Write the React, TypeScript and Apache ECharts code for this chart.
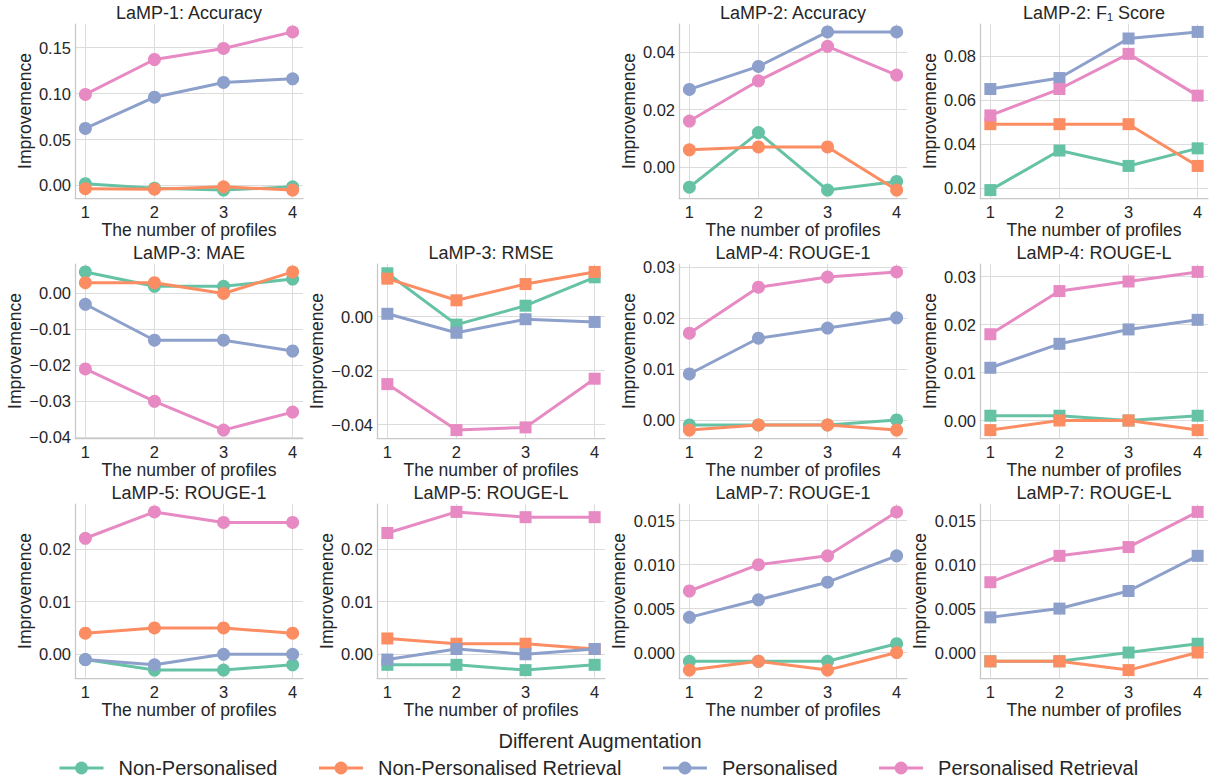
import React, { useEffect, useRef } from 'react';
import * as echarts from 'echarts';

// ---------- data ----------
const profiles = [1, 2, 3, 4];
const augmentations = ['Non-Personalised', 'Non-Personalised Retrieval', 'Personalised', 'Personalised Retrieval'];
const colors = ['#66c2a5', '#fc8d62', '#8da0cb', '#e78ac3'];

// LaMP-1: Accuracy
const lamp1AccNP = [0.002, -0.003, -0.005, -0.0015];
const lamp1AccNPR = [-0.0035, -0.004, -0.0015, -0.005];
const lamp1AccP = [0.062, 0.096, 0.112, 0.116];
const lamp1AccPR = [0.099, 0.137, 0.149, 0.167];
const lamp1AccTicks = [0, 0.05, 0.1, 0.15];

// LaMP-2: Accuracy
const lamp2AccNP = [-0.007, 0.012, -0.008, -0.005];
const lamp2AccNPR = [0.006, 0.007, 0.007, -0.008];
const lamp2AccP = [0.027, 0.035, 0.047, 0.047];
const lamp2AccPR = [0.016, 0.03, 0.042, 0.032];
const lamp2AccTicks = [0, 0.02, 0.04];

// LaMP-2: F1 Score
const lamp2F1NP = [0.019, 0.037, 0.03, 0.038];
const lamp2F1NPR = [0.049, 0.049, 0.049, 0.03];
const lamp2F1P = [0.065, 0.07, 0.088, 0.091];
const lamp2F1PR = [0.053, 0.065, 0.081, 0.062];
const lamp2F1Ticks = [0.02, 0.04, 0.06, 0.08];

// LaMP-3: MAE
const lamp3MaeNP = [0.006, 0.002, 0.002, 0.004];
const lamp3MaeNPR = [0.003, 0.003, 0.0, 0.006];
const lamp3MaeP = [-0.003, -0.013, -0.013, -0.016];
const lamp3MaePR = [-0.021, -0.03, -0.038, -0.033];
const lamp3MaeTicks = [-0.04, -0.03, -0.02, -0.01, 0];

// LaMP-3: RMSE
const lamp3RmseNP = [0.016, -0.003, 0.004, 0.0145];
const lamp3RmseNPR = [0.014, 0.006, 0.012, 0.0165];
const lamp3RmseP = [0.001, -0.006, -0.001, -0.002];
const lamp3RmsePR = [-0.025, -0.042, -0.041, -0.023];
const lamp3RmseTicks = [-0.04, -0.02, 0];

// LaMP-4: ROUGE-1
const lamp4R1NP = [-0.001, -0.001, -0.001, 0.0];
const lamp4R1NPR = [-0.002, -0.001, -0.001, -0.002];
const lamp4R1P = [0.009, 0.016, 0.018, 0.02];
const lamp4R1PR = [0.017, 0.026, 0.028, 0.029];
const lamp4R1Ticks = [0, 0.01, 0.02, 0.03];

// LaMP-4: ROUGE-L
const lamp4RLNP = [0.001, 0.001, 0.0, 0.001];
const lamp4RLNPR = [-0.002, 0.0, 0.0, -0.002];
const lamp4RLP = [0.011, 0.016, 0.019, 0.021];
const lamp4RLPR = [0.018, 0.027, 0.029, 0.031];
const lamp4RLTicks = [0, 0.01, 0.02, 0.03];

// LaMP-5: ROUGE-1
const lamp5R1NP = [-0.001, -0.003, -0.003, -0.002];
const lamp5R1NPR = [0.004, 0.005, 0.005, 0.004];
const lamp5R1P = [-0.001, -0.002, 0.0, 0.0];
const lamp5R1PR = [0.022, 0.027, 0.025, 0.025];
const lamp5R1Ticks = [0, 0.01, 0.02];

// LaMP-5: ROUGE-L
const lamp5RLNP = [-0.002, -0.002, -0.003, -0.002];
const lamp5RLNPR = [0.003, 0.002, 0.002, 0.001];
const lamp5RLP = [-0.001, 0.001, 0.0, 0.001];
const lamp5RLPR = [0.023, 0.027, 0.026, 0.026];
const lamp5RLTicks = [0, 0.01, 0.02];

// LaMP-7: ROUGE-1
const lamp7R1NP = [-0.001, -0.001, -0.001, 0.001];
const lamp7R1NPR = [-0.002, -0.001, -0.002, 0.0];
const lamp7R1P = [0.004, 0.006, 0.008, 0.011];
const lamp7R1PR = [0.007, 0.01, 0.011, 0.016];
const lamp7R1Ticks = [0, 0.005, 0.01, 0.015];

// LaMP-7: ROUGE-L
const lamp7RLNP = [-0.001, -0.001, 0.0, 0.001];
const lamp7RLNPR = [-0.001, -0.001, -0.002, 0.0];
const lamp7RLP = [0.004, 0.005, 0.007, 0.011];
const lamp7RLPR = [0.008, 0.011, 0.012, 0.016];
const lamp7RLTicks = [0, 0.005, 0.01, 0.015];

const panels = [
  { title: 'LaMP-1: Accuracy', row: 0, col: 0, marker: 'circle', values: [lamp1AccNP, lamp1AccNPR, lamp1AccP, lamp1AccPR], ticks: lamp1AccTicks, decimals: 2 },
  { title: 'LaMP-2: Accuracy', row: 0, col: 2, marker: 'circle', values: [lamp2AccNP, lamp2AccNPR, lamp2AccP, lamp2AccPR], ticks: lamp2AccTicks, decimals: 2 },
  { title: 'LaMP-2: F\u2081 Score', row: 0, col: 3, marker: 'rect', values: [lamp2F1NP, lamp2F1NPR, lamp2F1P, lamp2F1PR], ticks: lamp2F1Ticks, decimals: 2 },
  { title: 'LaMP-3: MAE', row: 1, col: 0, marker: 'circle', values: [lamp3MaeNP, lamp3MaeNPR, lamp3MaeP, lamp3MaePR], ticks: lamp3MaeTicks, decimals: 2 },
  { title: 'LaMP-3: RMSE', row: 1, col: 1, marker: 'rect', values: [lamp3RmseNP, lamp3RmseNPR, lamp3RmseP, lamp3RmsePR], ticks: lamp3RmseTicks, decimals: 2 },
  { title: 'LaMP-4: ROUGE-1', row: 1, col: 2, marker: 'circle', values: [lamp4R1NP, lamp4R1NPR, lamp4R1P, lamp4R1PR], ticks: lamp4R1Ticks, decimals: 2 },
  { title: 'LaMP-4: ROUGE-L', row: 1, col: 3, marker: 'rect', values: [lamp4RLNP, lamp4RLNPR, lamp4RLP, lamp4RLPR], ticks: lamp4RLTicks, decimals: 2 },
  { title: 'LaMP-5: ROUGE-1', row: 2, col: 0, marker: 'circle', values: [lamp5R1NP, lamp5R1NPR, lamp5R1P, lamp5R1PR], ticks: lamp5R1Ticks, decimals: 2 },
  { title: 'LaMP-5: ROUGE-L', row: 2, col: 1, marker: 'rect', values: [lamp5RLNP, lamp5RLNPR, lamp5RLP, lamp5RLPR], ticks: lamp5RLTicks, decimals: 2 },
  { title: 'LaMP-7: ROUGE-1', row: 2, col: 2, marker: 'circle', values: [lamp7R1NP, lamp7R1NPR, lamp7R1P, lamp7R1PR], ticks: lamp7R1Ticks, decimals: 3 },
  { title: 'LaMP-7: ROUGE-L', row: 2, col: 3, marker: 'rect', values: [lamp7RLNP, lamp7RLNPR, lamp7RLP, lamp7RLPR], ticks: lamp7RLTicks, decimals: 3 },
];

const xAxisName = 'The number of profiles';
const yAxisName = 'Improvemence';
const legendTitle = 'Different Augmentation';

// ---------- layout ----------
const FONT = '"Liberation Sans", Arial, Helvetica, sans-serif';
const TEXT = '#262626';
const GRID_COLOR = '#dcdcdc';
const SPINE_COLOR = '#c8c8c8';
const colLeft = [75, 377, 679, 980];
const plotW = 228;
const rowTop = [24, 264, 504];
const plotH = 174;

function fmt(v: number, d: number) {
  const s = Math.abs(v) < 1e-12 ? (0).toFixed(d) : v.toFixed(d);
  return s.replace('-', '\u2212');
}

function padExtent(vals: number[]) {
  const mn = Math.min(...vals);
  const mx = Math.max(...vals);
  const p = (mx - mn) * 0.05;
  return [mn - p, mx + p];
}

function buildOption() {
  const grids: any[] = [];
  const xAxes: any[] = [];
  const yAxes: any[] = [];
  const series: any[] = [];
  const graphics: any[] = [];
  const xExt = padExtent(profiles);

  panels.forEach((pn, i) => {
    const left = colLeft[pn.col];
    const top = rowTop[pn.row];
    grids.push({ left, top, width: plotW, height: plotH, containLabel: false });
    const allVals = ([] as number[]).concat(...pn.values);
    const yExt = padExtent(allVals);
    const maxLabelLen = Math.max(...pn.ticks.map((t) => fmt(t, pn.decimals).length));
    const nameGap = maxLabelLen >= 5 ? 51 : 41;

    xAxes.push({
      type: 'value',
      gridIndex: i,
      min: xExt[0],
      max: xExt[1],
      name: xAxisName,
      nameLocation: 'middle',
      nameGap: 20,
      nameTextStyle: { fontFamily: FONT, fontSize: 17.5, color: TEXT },
      axisLine: { show: true, onZero: false, lineStyle: { color: SPINE_COLOR, width: 1.25 } },
      axisTick: { show: false, customValues: profiles },
      axisLabel: {
        customValues: profiles,
        formatter: (v: number) => String(v),
        margin: 5,
        fontFamily: FONT,
        fontSize: 16.5,
        color: TEXT,
      },
      splitLine: { show: true, lineStyle: { color: GRID_COLOR, width: 1 } },
    });

    yAxes.push({
      type: 'value',
      gridIndex: i,
      min: yExt[0],
      max: yExt[1],
      name: yAxisName,
      nameLocation: 'middle',
      nameGap,
      nameTextStyle: { fontFamily: FONT, fontSize: 17.5, color: TEXT },
      axisLine: { show: true, onZero: false, lineStyle: { color: SPINE_COLOR, width: 1.25 } },
      axisTick: { show: false, customValues: pn.ticks },
      axisLabel: {
        customValues: pn.ticks,
        formatter: (v: number) => fmt(v, pn.decimals),
        margin: 4,
        fontFamily: FONT,
        fontSize: 16.5,
        color: TEXT,
      },
      splitLine: { show: true, lineStyle: { color: GRID_COLOR, width: 1 } },
    });

    pn.values.forEach((vals, s) => {
      series.push({
        type: 'line',
        name: augmentations[s],
        xAxisIndex: i,
        yAxisIndex: i,
        data: profiles.map((p, k) => [p, vals[k]]),
        symbol: pn.marker,
        symbolSize: pn.marker === 'circle' ? 13 : 12,
        showAllSymbol: true,
        lineStyle: { color: colors[s], width: 3 },
        itemStyle: { color: colors[s] },
        z: 2 + s,
        silent: true,
      });
    });

    graphics.push({
      type: 'text',
      x: left + plotW / 2,
      y: top - 11,
      style: {
        text: pn.title,
        align: 'center',
        verticalAlign: 'middle',
        fontFamily: FONT,
        fontSize: 18,
        fill: TEXT,
      },
    });
  });

  graphics.push({
    type: 'text',
    x: 600,
    y: 741,
    style: {
      text: legendTitle,
      align: 'center',
      verticalAlign: 'middle',
      fontFamily: FONT,
      fontSize: 20,
      fill: TEXT,
    },
  });

  return {
    animation: false,
    backgroundColor: '#ffffff',
    color: colors,
    grid: grids,
    xAxis: xAxes,
    yAxis: yAxes,
    series,
    graphic: graphics,
    legend: {
      data: augmentations,
      left: 53,
      top: 753,
      itemWidth: 44,
      itemHeight: 16,
      itemGap: 40,
      lineStyle: { width: 3 },
      textStyle: { fontFamily: FONT, fontSize: 20, color: TEXT, padding: [0, 0, 0, 10] },
      selectedMode: false,
    },
  };
}

export default function App() {
  const ref = useRef<HTMLDivElement>(null);
  useEffect(() => {
    if (!ref.current) return;
    const chart = echarts.init(ref.current, null, { renderer: 'svg' });
    chart.setOption(buildOption() as any);
    return () => chart.dispose();
  }, []);
  return (
    <div
      ref={ref}
      style={{ position: 'fixed', left: 0, top: 0, width: 1210, height: 782, background: '#fff' }}
    />
  );
}
